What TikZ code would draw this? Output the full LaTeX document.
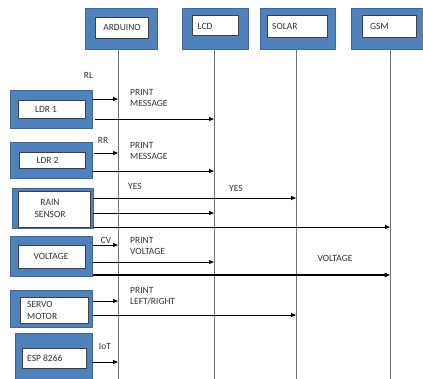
\documentclass[tikz,border=0pt]{standalone}
\usepackage{fontspec}
\setmainfont{Carlito}
\usetikzlibrary{arrows.meta}
\definecolor{boxblue}{HTML}{4F81BD}
\definecolor{txt}{HTML}{333333}
\begin{document}
\begin{tikzpicture}[x=1pt,y=-1pt,
  outer/.style={rectangle, fill=boxblue, draw=boxblue!80!black, line width=0.4pt, inner sep=0pt},
  inner/.style={rectangle, fill=white, draw=black!75, line width=0.6pt, inner sep=0pt},
  lbl/.style={font=\fontsize{9.5}{10.5}\selectfont, text=txt, inner sep=0pt},
  life/.style={draw=black!55, line width=0.6pt},
  msg/.style={draw=black, line width=0.9pt, -{Triangle[length=5pt,width=4pt]}},
  msgb/.style={draw=black, line width=1.3pt, -{Triangle[length=5.5pt,width=4.5pt]}}]
\useasboundingbox (0,0) rectangle (423,379);
% top participants
\node[outer, minimum width=72, minimum height=41] (ardo) at (121,28.5) {};
\node[inner, minimum width=53, minimum height=21] (ardi) at (121.5,27.5) {};
\node[lbl] (ardt) at (122,27.5) {ARDUINO};
\node[outer, minimum width=66, minimum height=41] (lcdo) at (215,28.5) {};
\node[inner, minimum width=46, minimum height=20] (lcdi) at (215,25.5) {};
\node[lbl, anchor=west] (lcdt) at (197.5,26) {LCD};
\node[outer, minimum width=75, minimum height=41] (solo) at (297.5,28.5) {};
\node[inner, minimum width=60, minimum height=22] (soli) at (297,26) {};
\node[lbl, anchor=west] (solt) at (272,26) {SOLAR};
\node[outer, minimum width=72, minimum height=41] (gsmo) at (387,28.5) {};
\node[inner, minimum width=54, minimum height=22] (gsmi) at (389,26) {};
\node[lbl, anchor=west] (gsmt) at (370,26) {GSM};
% lifelines
\coordinate (ardb) at (118,379);
\coordinate (lcdb) at (214,379);
\coordinate (solb) at (296,379);
\coordinate (gsmb) at (390,379);
\draw[life] (118,49) -- (ardb);
\draw[life] (214,49) -- (lcdb);
\draw[life] (296,49) -- (solb);
\draw[life] (390,49) -- (gsmb);
% lifeline targets
\coordinate (a1) at (118,99);   \coordinate (l1) at (214,119);
\coordinate (a2) at (118,153);  \coordinate (l2) at (214,171);
\coordinate (s3) at (296,198);  \coordinate (l3) at (214,213); \coordinate (g3) at (390,227);
\coordinate (a4) at (118,245);  \coordinate (l4) at (214,262); \coordinate (g4) at (390,275);
\coordinate (a5) at (118,301);  \coordinate (s5) at (296,315);
\coordinate (a6) at (118,362);
% LDR 1
\node[outer, minimum width=82, minimum height=38] (ldr1o) at (51,109) {};
\node[inner, minimum width=67, minimum height=18] (ldr1i) at (51.5,109) {};
\node[lbl] (ldr1t) at (46,109) {LDR 1};
\draw[msg] (92,99) -- (a1);
\draw[msg] (95,119) -- (l1);
\node[lbl] (rl) at (88.5,75) {RL};
\node[lbl, anchor=west, align=left] (pm1) at (130,98) {PRINT\\MESSAGE};
% LDR 2
\node[outer, minimum width=82, minimum height=36] (ldr2o) at (51,160) {};
\node[inner, minimum width=66, minimum height=16] (ldr2i) at (52,160) {};
\node[lbl] (ldr2t) at (47.5,160) {LDR 2};
\draw[msg] (94,153) -- (a2);
\draw[msg] (92,171) -- (l2);
\node[lbl] (rr) at (103,140) {RR};
\node[lbl, anchor=west, align=left] (pm2) at (130,151) {PRINT\\MESSAGE};
% RAIN SENSOR
\node[outer, minimum width=81, minimum height=40] (raino) at (52.5,208) {};
\node[inner, minimum width=72, minimum height=36] (raini) at (54,209) {};
\node[lbl, align=center] (raint) at (50,208.5) {RAIN\\[2pt]SENSOR};
\draw[msg] (93,198) -- (s3);
\draw[msg] (93,213) -- (l3);
\draw[msg] (93,227) -- (g3);
\node[lbl, anchor=west] (yes1) at (128,186) {YES};
\node[lbl, anchor=west] (yes2) at (229,188) {YES};
% VOLTAGE
\node[outer, minimum width=82, minimum height=40] (volo) at (51,256) {};
\node[inner, minimum width=67, minimum height=23] (voli) at (52,256.5) {};
\node[lbl] (volt) at (51,256.5) {VOLTAGE};
\draw[msg] (93,245) -- (a4);
\draw[msg] (93,262) -- (l4);
\draw[msgb] (93,275) -- (g4);
\node[lbl] (cv) at (106,240) {CV};
\node[lbl, anchor=west, align=left] (pv) at (130,246) {PRINT\\VOLTAGE};
\node[lbl] (vlab) at (335,258) {VOLTAGE};
% SERVO MOTOR
\node[outer, minimum width=82, minimum height=37] (servo) at (51,308.5) {};
\node[inner, minimum width=68, minimum height=26] (servi) at (54,310) {};
\node[lbl, anchor=west, align=left] (servt) at (27,310.5) {SERVO\\[2pt]MOTOR};
\draw[msg] (93,301) -- (a5);
\draw[msg] (93,315) -- (s5);
\node[lbl, anchor=west, align=left] (plr) at (130,296) {PRINT\\LEFT/RIGHT};
% ESP 8266
\node[outer, minimum width=77, minimum height=48] (espo) at (53.5,357) {};
\node[inner, minimum width=64, minimum height=20] (espi) at (54,358) {};
\node[lbl, anchor=west] (espt) at (27,358) {ESP 8266};
\draw[msg] (92,362) -- (a6);
\node[lbl] (iot) at (105,346) {IoT};
\end{tikzpicture}
\end{document}
